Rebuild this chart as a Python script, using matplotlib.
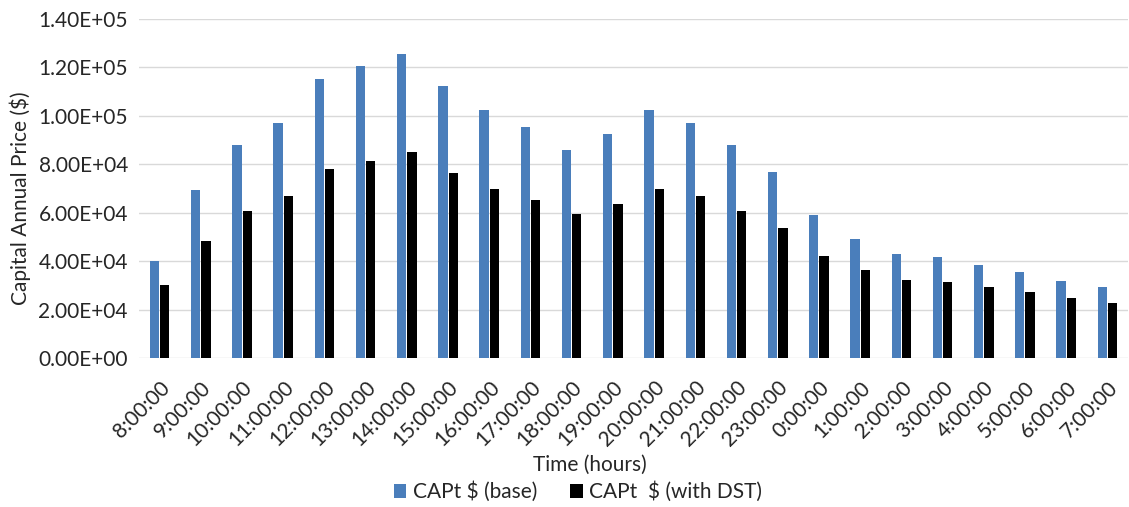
import matplotlib
matplotlib.use("Agg")
import matplotlib.pyplot as plt
import numpy as np

categories = ["8:00:00", "9:00:00", "10:00:00", "11:00:00", "12:00:00", "13:00:00",
              "14:00:00", "15:00:00", "16:00:00", "17:00:00", "18:00:00", "19:00:00",
              "20:00:00", "21:00:00", "22:00:00", "23:00:00", "0:00:00", "1:00:00",
              "2:00:00", "3:00:00", "4:00:00", "5:00:00", "6:00:00", "7:00:00"]
base = [39900, 69400, 88100, 97200, 115100, 120600, 125700, 112500, 102300, 95200,
        86100, 92700, 102300, 97200, 88100, 77000, 59200, 49200, 43100, 41600,
        38400, 35400, 31800, 29200]
dst = [30300, 48200, 60900, 66900, 78100, 81500, 85100, 76400, 69800, 65400,
       59300, 63600, 70000, 66800, 60900, 53700, 42000, 36400, 32200, 31200,
       29200, 27300, 24600, 22700]
yticks = [0, 20000, 40000, 60000, 80000, 100000, 120000, 140000]
ytick_labels = ["0.00E+00", "2.00E+04", "4.00E+04", "6.00E+04", "8.00E+04",
                "1.00E+05", "1.20E+05", "1.40E+05"]

plt.rcParams['font.family'] = ['Lato', 'DejaVu Sans']
TXT = '#262626'

W, H = 1129, 507
fig = plt.figure(figsize=(W / 100, H / 100), dpi=100)
L, R, T, B = 139, 1128, 19, 358
ax = fig.add_axes([L / W, 1 - B / H, (R - L) / W, (B - T) / H])

x = np.arange(len(categories))
w = 0.225
ax.bar(x - 0.125, base, width=w, color='#4a7ebb', label='CAPt $ (base)', zorder=3)
ax.bar(x + 0.125, dst, width=w, color='#000000', label='CAPt  $ (with DST)', zorder=3)

ax.set_xlim(-0.5, len(categories) - 0.5)
ax.set_ylim(0, 140000)
ax.set_yticks(yticks)
ax.set_yticklabels(ytick_labels, fontsize=15, color=TXT)
ax.set_xticks(x)
ax.set_xticklabels(categories, rotation=45, ha='right', rotation_mode='anchor',
                   fontsize=15, color=TXT)
ax.tick_params(axis='y', length=0, pad=8)
ax.tick_params(axis='x', length=0, pad=14)
ax.grid(axis='y', color='#d9d9d9', linewidth=1, zorder=0)
for s in ax.spines.values():
    s.set_visible(False)

ax.set_ylabel('Capital Annual Price ($)', fontsize=15, color=TXT)
ax.yaxis.set_label_coords(-(L - 20) / (R - L), (B - 198) / (B - T))
ax.set_xlabel('Time (hours)', fontsize=15, color=TXT)
ax.xaxis.set_label_coords((590 - L) / (R - L), -(465 - B) / (B - T))
ax.xaxis.label.set_va('center')
ax.yaxis.label.set_va('center')
fig.legend(loc='center', bbox_to_anchor=(578 / W, 1 - 492 / H), ncol=2, frameon=False,
           fontsize=15, handlelength=0.6, handleheight=0.6, handletextpad=0.3,
           columnspacing=1.6, labelcolor=TXT, borderpad=0)

fig.savefig('out.png', dpi=100)
